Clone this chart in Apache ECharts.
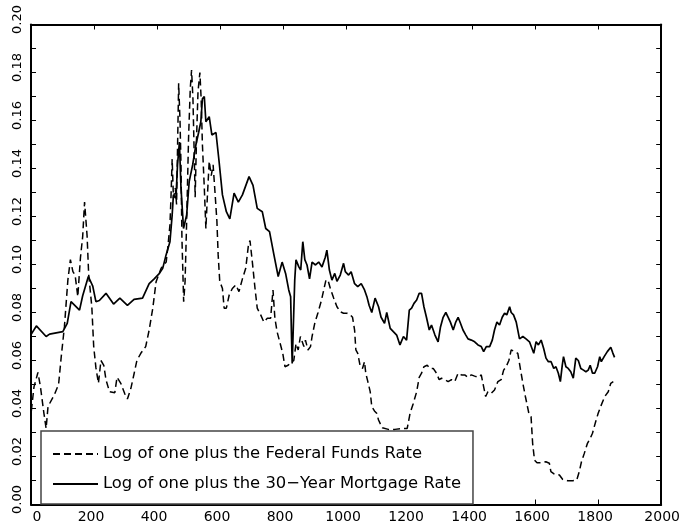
<!DOCTYPE html>
<html>
<head>
<meta charset="utf-8">
<script src="https://cdn.jsdelivr.net/npm/echarts@6/dist/echarts.min.js"></script>
<style>
  html, body { margin: 0; padding: 0; background: #fff; }
  #chart { width: 683px; height: 525px; }
</style>
</head>
<body>
<div id="chart"></div>
<script>
// Weekly observations: [week index, log(1 + rate)]
const fedFunds = [
  [1,0.039],[9.5,0.049],[22,0.055],[30,0.049],[41,0.038],[48,0.0317],[54,0.0408],[75,0.046],[87.5,0.050],
  [96,0.0616],[106,0.074],[117,0.0935],[125,0.102],[133,0.097],[140,0.0956],[148.5,0.0866],[157,0.103],
  [164,0.1116],[170,0.126],[178,0.112],[183,0.096],[193,0.0824],[199,0.0658],[206,0.057],[214,0.0505],
  [222,0.060],[231,0.058],[238,0.052],[249,0.047],[266,0.0466],[273,0.053],[285,0.0505],[298,0.046],
  [306,0.044],[317,0.0484],[327.5,0.0547],[336,0.060],[348.5,0.063],[364,0.0658],[375,0.0727],
  [386.5,0.0818],[397,0.0928],[413,0.0984],[429,0.101],[434,0.1068],[441,0.1165],[444.5,0.129],
  [448,0.144],[452,0.1276],[458,0.1318],[462,0.125],[468.6,0.1755],[473,0.1595],[476,0.1415],
  [479,0.111],[484.5,0.0845],[489,0.093],[494,0.118],[500,0.1526],[505.5,0.1734],[509.6,0.181],
  [514,0.169],[518,0.1456],[521,0.128],[525,0.151],[530,0.172],[536,0.180],[540,0.169],[544,0.150],
  [550,0.132],[555,0.115],[560,0.129],[565.6,0.143],[572,0.137],[578,0.1415],[584.5,0.129],[590,0.118],
  [594,0.104],[599,0.093],[607.6,0.090],[613,0.0818],[620,0.0818],[629,0.0873],[639,0.090],[650,0.0915],
  [660,0.0887],[671,0.094],[681.5,0.0984],[690,0.108],[695,0.110],[702.5,0.101],[711,0.090],[718,0.0818],
  [729,0.079],[739,0.076],[750,0.0776],[760.5,0.0776],[768,0.0894],[774,0.0776],[781,0.072],[789,0.068],
  [799,0.063],[806,0.0574],[816,0.058],[827,0.0595],[834,0.060],[841,0.067],[848,0.0644],[855,0.070],
  [860,0.0706],[866,0.0658],[871,0.0685],[879,0.0644],[887,0.0658],[892,0.070],[900.5,0.0755],[911,0.080],
  [921.6,0.085],[929,0.0894],[936,0.0935],[942.5,0.0935],[950,0.090],[960.5,0.086],[971,0.0824],
  [981.5,0.0803],[992,0.0797],[1002.5,0.0797],[1013,0.079],[1020.5,0.078],[1027,0.0727],[1031,0.0644],
  [1037,0.063],[1045,0.0574],[1052,0.0567],[1058.5,0.0595],[1062.5,0.0547],[1069,0.0512],[1076.5,0.047],
  [1081.5,0.0408],[1090,0.039],[1097,0.038],[1103,0.0352],[1108,0.0338],[1115,0.032],[1134,0.0313],
  [1155,0.0313],[1176,0.0317],[1194,0.0317],[1203,0.038],[1213,0.042],[1224,0.047],[1232,0.053],
  [1239.5,0.0547],[1247,0.0574],[1257.5,0.058],[1266,0.0567],[1276.5,0.0567],[1287,0.0547],[1295.4,0.052],
  [1303,0.0526],[1313.4,0.052],[1324,0.0512],[1334.4,0.052],[1345,0.0512],[1355.5,0.0547],[1366,0.054],
  [1376.6,0.054],[1387,0.053],[1397.5,0.054],[1408,0.0535],[1418.6,0.053],[1429,0.054],[1436.6,0.049],
  [1443,0.045],[1450,0.047],[1460.6,0.0463],[1471,0.0477],[1481.7,0.0512],[1492,0.052],[1500,0.056],
  [1508,0.0574],[1516.6,0.060],[1524,0.0644],[1534.6,0.0637],[1545,0.063],[1552,0.0574],[1561,0.0505],
  [1569,0.045],[1580,0.038],[1587,0.0366],[1592,0.0255],[1598,0.0185],[1606,0.0174],[1619,0.0174],
  [1634,0.0178],[1645,0.0172],[1650,0.0137],[1661,0.0127],[1677,0.0123],[1687,0.0105],[1703,0.0099],
  [1719,0.0099],[1732,0.0102],[1740,0.0137],[1747,0.0178],[1756,0.0213],[1766,0.0255],[1775,0.0276],
  [1782,0.0297],[1792,0.0345],[1800,0.038],[1810,0.0415],[1821,0.045],[1832,0.047],[1840,0.0505],
  [1848,0.0512]
];

const mortgage = [
  [1,0.071],[17,0.0744],[48,0.070],[59,0.071],[101,0.072],[115,0.0755],[127,0.0845],[154,0.081],
  [164,0.087],[182,0.095],[196,0.091],[206,0.0845],[217,0.085],[238,0.088],[262,0.0835],[282,0.086],
  [306,0.083],[327,0.0855],[354,0.086],[375,0.092],[391,0.094],[407.6,0.0963],[418,0.0984],
  [428.7,0.104],[441,0.1095],[448,0.1206],[452,0.129],[460,0.1276],[465,0.1415],[471,0.151],[476,0.132],
  [484,0.115],[494,0.1206],[502,0.1345],[513,0.1415],[523.5,0.150],[532,0.155],[539,0.1595],[544,0.169],
  [550,0.170],[555,0.1595],[565.6,0.1616],[574,0.154],[587,0.155],[597,0.1428],[607.6,0.129],[620,0.122],
  [631,0.119],[644.5,0.1297],[658,0.126],[671,0.129],[692,0.1366],[704.6,0.133],[718,0.1234],[734,0.122],
  [745,0.115],[757,0.1137],[771,0.104],[784.5,0.095],[797,0.101],[808,0.0963],[818,0.0894],[824,0.0866],
  [827,0.0685],[829,0.0588],[834,0.0595],[837,0.0935],[841,0.102],[850,0.099],[856,0.0977],[862.6,0.1095],
  [869,0.102],[876,0.0998],[884,0.094],[892,0.101],[903,0.0998],[913,0.101],[923.5,0.099],[934,0.103],
  [939,0.106],[947,0.0977],[955,0.0935],[964,0.0963],[971,0.093],[981.5,0.0956],[992,0.1005],[997.5,0.097],
  [1008,0.0956],[1016,0.097],[1027,0.092],[1037,0.0908],[1048,0.092],[1058.5,0.0894],[1066,0.0866],
  [1073,0.083],[1081.5,0.080],[1092,0.086],[1103,0.0824],[1111,0.078],[1122,0.0755],[1129,0.080],
  [1140,0.0734],[1150,0.072],[1160.5,0.0706],[1171,0.0665],[1182,0.070],[1192,0.0685],[1200.6,0.081],
  [1208,0.0818],[1215.5,0.0838],[1224,0.0852],[1232,0.088],[1239.5,0.088],[1247,0.0824],[1255,0.078],
  [1264,0.0727],[1271,0.0748],[1282,0.0706],[1292,0.0678],[1299.6,0.074],[1308,0.078],[1316.5,0.080],
  [1324,0.078],[1331,0.076],[1340,0.0727],[1348,0.076],[1355.5,0.078],[1363,0.0755],[1371,0.0727],
  [1380,0.0706],[1387,0.069],[1397.5,0.0685],[1408,0.0678],[1418.6,0.0665],[1429,0.0658],[1436.6,0.0637],
  [1445,0.0658],[1455.6,0.0658],[1464,0.0685],[1471,0.0727],[1478.7,0.076],[1487,0.0748],[1495.5,0.078],
  [1503,0.0797],[1510,0.079],[1519,0.0824],[1524,0.080],[1531.4,0.079],[1540,0.076],[1550.4,0.069],
  [1561,0.070],[1571,0.069],[1582,0.0678],[1595.6,0.063],[1603,0.0678],[1610.4,0.0665],[1619,0.0685],
  [1627,0.065],[1634.4,0.061],[1642,0.0595],[1650.6,0.0595],[1659,0.0567],[1666,0.0574],[1673.6,0.0547],
  [1680,0.0512],[1686,0.058],[1690,0.0616],[1697.6,0.0574],[1705,0.0567],[1713,0.0553],[1721,0.0526],
  [1729,0.061],[1737,0.060],[1745,0.0567],[1753.5,0.056],[1761,0.0553],[1768.4,0.056],[1774.7,0.058],
  [1782,0.0547],[1789,0.0547],[1798,0.0574],[1805,0.0616],[1810,0.0595],[1819,0.0616],[1829,0.0637],
  [1840,0.0655],[1846,0.0633],[1852,0.0613]
];

const seriesNames = [
  'Log of one plus the Federal Funds Rate',
  'Log of one plus the 30\u2212Year Mortgage Rate'
];

// Axis ranges and tick spacing
const xRange = [0, 2000];
const xStep = 200;
const yRange = [0, 0.20];
const yTickStep = 0.01;

const FONT = 'DejaVu Sans';
const frameLine = { show: true, onZero: false, lineStyle: { color: '#000', width: 2 } };
const tickIn = { show: true, inside: true, length: 5, lineStyle: { color: '#000', width: 1 } };

function xAxisDef(pos, showLabels) {
  return {
    type: 'value', position: pos, min: xRange[0], max: xRange[1], interval: xStep,
    axisLine: frameLine, axisTick: tickIn, splitLine: { show: false },
    axisLabel: {
      show: showLabels, color: '#000', fontFamily: FONT, fontSize: 14, margin: 6,
      showMinLabel: true, showMaxLabel: true,
      // first label nudged clear of the y labels, the rest sit slightly left of their ticks
      formatter: v => (v === xRange[0] ? '{first|' + v + '}' : (v === xRange[1] ? '{last|' + v + '}' : '{mid|' + v + '}')),
      rich: {
        first: { fontFamily: FONT, fontSize: 14, color: '#000', padding: [0, 0, 0, 12] },
        mid: { fontFamily: FONT, fontSize: 14, color: '#000', padding: [0, 6, 0, 0] },
        last: { fontFamily: FONT, fontSize: 14, color: '#000', padding: [0, 0, 0, 2] }
      }
    }
  };
}
function yAxisDef(pos, showLabels) {
  return {
    type: 'value', position: pos, min: yRange[0], max: yRange[1], interval: yTickStep,
    axisLine: frameLine, axisTick: tickIn, splitLine: { show: false },
    axisLabel: {
      show: showLabels, color: '#000', fontFamily: FONT, fontSize: 13, rotate: 90, margin: 7,
      showMinLabel: true, showMaxLabel: true,
      // labels on every other tick, set a little above the tick
      formatter: v => (Math.round(v * 100) % 2 === 0 ? '{v|' + v.toFixed(2) + '}' : ''),
      rich: {
        v: { fontFamily: FONT, fontSize: 13, color: '#000', padding: [0, 0, 0, 10] }
      }
    }
  };
}

const chart = echarts.init(document.getElementById('chart'), null, { renderer: 'canvas' });
chart.setOption({
  animation: false,
  backgroundColor: '#fff',
  grid: { left: 31, right: 19, top: 24.5, bottom: 20.5, containLabel: false },
  xAxis: [xAxisDef('bottom', true), xAxisDef('top', false)],
  yAxis: [yAxisDef('left', true), yAxisDef('right', false)],
  legend: {
    orient: 'vertical', left: 41, top: 431,
    padding: [15, 12, 12, 11], itemGap: 14, itemWidth: 45, itemHeight: 14,
    borderColor: '#444', borderWidth: 1.5, backgroundColor: '#fff',
    itemStyle: { opacity: 0 },
    textStyle: { color: '#000', fontFamily: FONT, fontSize: 16.4 },
    data: seriesNames
  },
  series: [
    {
      name: seriesNames[0], type: 'line', data: fedFunds, xAxisIndex: 0, yAxisIndex: 0,
      symbol: 'none', showSymbol: false,
      lineStyle: { color: '#000', width: 1.5, type: [7, 4] }, itemStyle: { color: '#000' }
    },
    {
      name: seriesNames[1], type: 'line', data: mortgage, xAxisIndex: 0, yAxisIndex: 0,
      symbol: 'none', showSymbol: false,
      lineStyle: { color: '#000', width: 1.7 }, itemStyle: { color: '#000' }
    }
  ]
});
</script>
</body>
</html>
